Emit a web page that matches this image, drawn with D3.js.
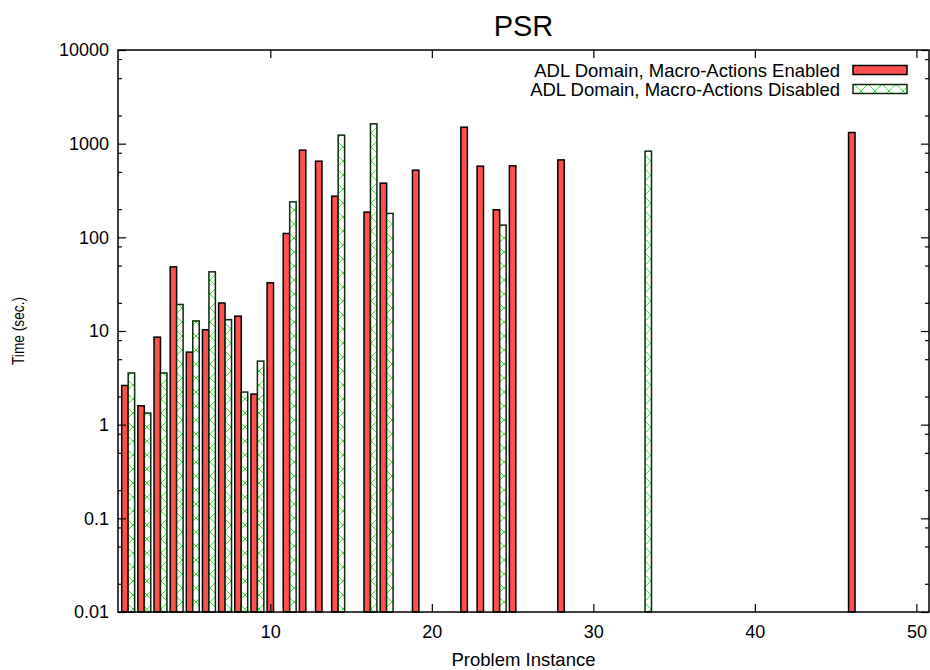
<!DOCTYPE html>
<html>
<head>
<meta charset="utf-8">
<script src="https://cdn.jsdelivr.net/npm/d3@7"></script>
<style>
  html, body { margin: 0; padding: 0; background: #fff; }
  svg { display: block; font-family: "Liberation Sans", Arial, Helvetica, sans-serif; }
</style>
</head>
<body>
<svg id="chart" width="930" height="670"></svg>
<script>
// ---- data ----
const title = "PSR";
const xLabel = "Problem Instance";
const yLabel = "Time (sec.)";
const seriesNames = ["ADL Domain, Macro-Actions Enabled", "ADL Domain, Macro-Actions Disabled"];

const enabledInstances = [1, 2, 3, 4, 5, 6, 7, 8, 9, 10, 11, 12, 13, 14, 16, 17, 19, 22, 23, 24, 25, 28, 46];
const enabledTimes     = [2.62, 1.59, 8.6, 48.4, 5.95, 10.3, 19.9, 14.4, 2.12, 32.7, 110, 853, 650, 275, 186, 379, 521, 1500, 575, 197, 580, 671, 1315];

const disabledInstances = [1, 2, 3, 4, 5, 6, 7, 8, 9, 11, 14, 16, 17, 24, 33];
const disabledTimes     = [3.56, 1.33, 3.56, 19.2, 12.8, 42.8, 13.2, 2.23, 4.77, 239, 1233, 1627, 180, 135, 832];

const xTicks = [10, 20, 30, 40, 50];
const yTicks = [0.01, 0.1, 1, 10, 100, 1000, 10000];
const yTickLabels = ["0.01", "0.1", "1", "10", "100", "1000", "10000"];
const yMinorMultipliers = [2, 5, 8];

// ---- layout ----
const svg = d3.select("#chart");
const pLeft = 118, pRight = 929, pTop = 50, pBottom = 612;

const x = d3.scaleLinear().domain([0.57, 50.78]).range([pLeft, pRight]);
const y = d3.scaleLog().domain([0.01, 10000]).range([pBottom, pTop]);

const red = "#ff5050";
const green = "#22e022";

// pattern for disabled series
const defs = svg.append("defs");
const tile = 14;
const pat = defs.append("pattern")
  .attr("id", "xhatch")
  .attr("patternUnits", "userSpaceOnUse")
  .attr("width", tile).attr("height", tile);
pat.append("rect").attr("width", tile).attr("height", tile).attr("fill", "#fff");
pat.append("path").attr("d", `M0,0L${tile},${tile}M0,${tile}L${tile},0`)
  .attr("stroke", green).attr("stroke-width", 0.9).attr("fill", "none");

const g = svg.append("g");

// bars
const barW = 0.4;
const enabledData = enabledInstances.map((d, i) => ({ n: d, v: enabledTimes[i] }));
const disabledData = disabledInstances.map((d, i) => ({ n: d, v: disabledTimes[i] }));

g.selectAll("rect.en").data(enabledData).enter().append("rect")
  .attr("class", "en")
  .attr("x", d => x(d.n - barW / 2))
  .attr("width", d => x(d.n + barW / 2) - x(d.n - barW / 2))
  .attr("y", d => y(d.v))
  .attr("height", d => pBottom - y(d.v))
  .attr("fill", red).attr("stroke", "#000").attr("stroke-width", 1.5);

g.selectAll("rect.dis").data(disabledData).enter().append("rect")
  .attr("class", "dis")
  .attr("x", d => x(d.n + barW / 2))
  .attr("width", d => x(d.n + barW * 1.5) - x(d.n + barW / 2))
  .attr("y", d => y(d.v))
  .attr("height", d => pBottom - y(d.v))
  .attr("fill", "url(#xhatch)").attr("stroke", "#0a2a0a").attr("stroke-width", 1.5);

// minor y ticks
const minorY = [];
yTicks.slice(0, -1).forEach(t => yMinorMultipliers.forEach(m => minorY.push(t * m)));

// axes with inward ticks
const fontSize = 18;
const axBottom = d3.axisBottom(x).tickValues(xTicks).tickFormat(d3.format("d")).tickSize(-8).tickPadding(13);
const axTop = d3.axisTop(x).tickValues(xTicks).tickFormat("").tickSize(-8);
const axLeft = d3.axisLeft(y).tickValues(yTicks).tickFormat((d, i) => yTickLabels[i]).tickSize(-8).tickPadding(9);
const axRight = d3.axisRight(y).tickValues(yTicks).tickFormat("").tickSize(-8);
const axLeftMinor = d3.axisLeft(y).tickValues(minorY).tickFormat("").tickSize(-4);
const axRightMinor = d3.axisRight(y).tickValues(minorY).tickFormat("").tickSize(-4);

function styleAxis(sel) {
  sel.select(".domain").remove();
  sel.selectAll(".tick line").attr("stroke", "#000").attr("stroke-width", 1.2);
  sel.selectAll(".tick text").attr("font-size", fontSize).attr("fill", "#000")
    .attr("font-family", "'Liberation Sans', Arial, sans-serif");
}

svg.append("g").attr("transform", `translate(0,${pBottom})`).call(axBottom).call(styleAxis);
svg.append("g").attr("transform", `translate(0,${pTop})`).call(axTop).call(styleAxis);
svg.append("g").attr("transform", `translate(${pLeft},0)`).call(axLeft).call(styleAxis);
svg.append("g").attr("transform", `translate(${pRight},0)`).call(axRight).call(styleAxis);
svg.append("g").attr("transform", `translate(${pLeft},0)`).call(axLeftMinor).call(styleAxis);
svg.append("g").attr("transform", `translate(${pRight},0)`).call(axRightMinor).call(styleAxis);

// border
svg.append("rect").attr("x", pLeft).attr("y", pTop)
  .attr("width", pRight - pLeft).attr("height", pBottom - pTop)
  .attr("fill", "none").attr("stroke", "#000").attr("stroke-width", 1.5);

// title and labels
svg.append("text").attr("x", (pLeft + pRight) / 2).attr("y", 36)
  .attr("text-anchor", "middle").attr("font-size", 29).text(title);
svg.append("text").attr("x", (pLeft + pRight) / 2).attr("y", 666)
  .attr("text-anchor", "middle").attr("font-size", 18.5).text(xLabel);
svg.append("text").attr("transform", `translate(24,${(pTop + pBottom) / 2}) rotate(-90)`)
  .attr("text-anchor", "middle").attr("font-size", 17)
  .attr("textLength", 68).attr("lengthAdjust", "spacingAndGlyphs").text(yLabel);

// legend
const legX = 840, sampleX0 = 853, sampleX1 = 907;
const legRows = [
  { name: seriesNames[0], fill: red, stroke: "#000", yc: 70 },
  { name: seriesNames[1], fill: "url(#xhatch)", stroke: "#0a2a0a", yc: 89 }
];
const leg = svg.append("g");
legRows.forEach(r => {
  leg.append("text").attr("x", legX).attr("y", r.yc + 6.5)
    .attr("text-anchor", "end").attr("font-size", 18.5).text(r.name);
  leg.append("rect").attr("x", sampleX0).attr("y", r.yc - 4.5)
    .attr("width", sampleX1 - sampleX0).attr("height", 9)
    .attr("fill", r.fill).attr("stroke", r.stroke).attr("stroke-width", 1.5);
});
</script>
</body>
</html>
